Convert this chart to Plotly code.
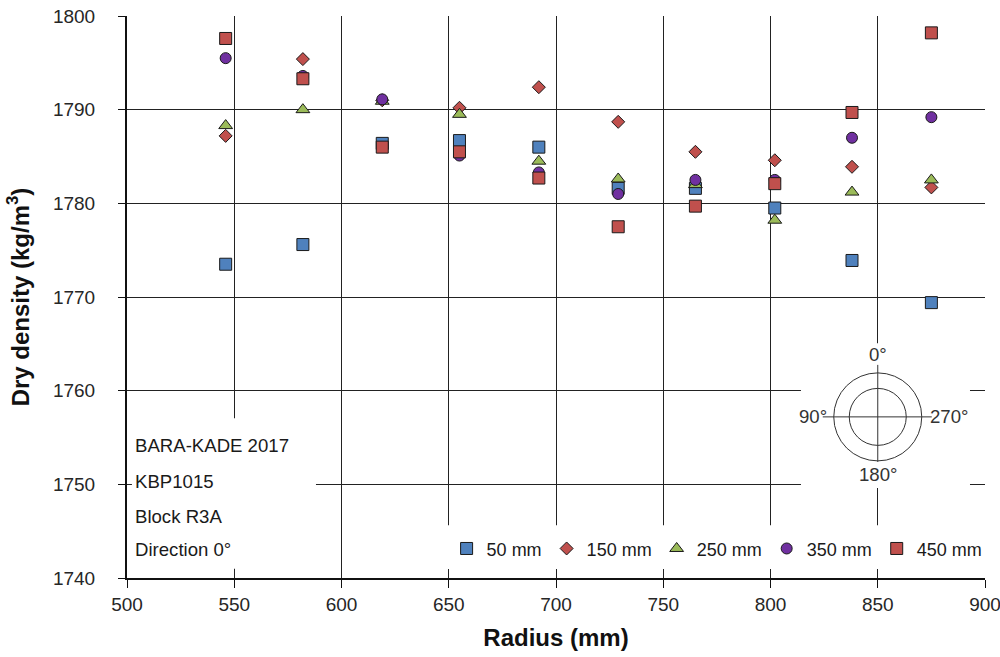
import plotly.graph_objects as go

# ---- data ----
radius = [546, 582, 619, 655, 692, 729, 765, 802, 838, 875]
d50 = [1773.5, 1775.6, 1786.4, 1786.7, 1786.0, 1781.6, 1781.6, 1779.5, 1773.9, 1769.4]
d150 = [1787.2, 1795.4, 1791.0, 1790.2, 1792.4, 1788.7, 1785.5, 1784.6, 1783.9, 1781.7]
d250 = [1788.3, 1790.0, 1790.9, 1789.5, 1784.5, 1782.6, 1782.0, 1778.2, 1781.2, 1782.5]
d350 = [1795.5, 1793.6, 1791.1, 1785.1, 1783.3, 1781.0, 1782.5, 1782.5, 1787.0, 1789.2]
d450 = [1797.6, 1793.3, 1786.0, 1785.5, 1782.7, 1777.5, 1779.7, 1782.1, 1789.7, 1798.2]

series_names = ["50 mm", "150 mm", "250 mm", "350 mm", "450 mm"]
series_vals = [d50, d150, d250, d350, d450]
symbols = ["square", "diamond", "triangle-up", "circle", "square"]
sizes = [12, 10, 12, 11, 12]
colors = ["#4F81BD", "#C0504D", "#9BBB59", "#7030A0", "#C0504D"]

info_lines = ["BARA-KADE 2017", "KBP1015", "Block R3A", "Direction 0°"]
info_y = [1754.1, 1750.3, 1746.6, 1743.0]

FONT = "Arial, Liberation Sans, sans-serif"
TXT = "#262626"

fig = go.Figure()
for name, vals, sym, sz, col in zip(series_names, series_vals, symbols, sizes, colors):
    fig.add_trace(go.Scatter(
        x=radius, y=vals, mode="markers", name=name,
        marker=dict(symbol=sym, size=sz, color=col, line=dict(color="#1a1a1a", width=1)),
    ))

shapes = []
# white boxes hiding grid lines (text box, legend box, orientation inset)
for x0, x1, y0, y1 in [(502.3, 588.1, 1741.0, 1757.05),
                       (647.0, 899.5, 1740.96, 1745.63),
                       (814.2, 893.0, 1749.6, 1765.06)]:
    shapes.append(dict(type="rect", xref="x", yref="y", x0=x0, x1=x1, y0=y0, y1=y1,
                       fillcolor="white", line=dict(width=0), layer="between"))

cx, cy = 850, 1757.2
for d in (88, 57):
    shapes.append(dict(type="circle", xref="x", yref="y", xsizemode="pixel", ysizemode="pixel",
                       xanchor=cx, yanchor=cy, x0=-d / 2, x1=d / 2, y0=-d / 2, y1=d / 2,
                       line=dict(color="#333333", width=1), layer="above"))
shapes.append(dict(type="line", xref="x", yref="y", xsizemode="pixel", ysizemode="pixel",
                   xanchor=cx, yanchor=cy, x0=-55, x1=54, y0=0, y1=0,
                   line=dict(color="#333333", width=1)))
shapes.append(dict(type="line", xref="x", yref="y", xsizemode="pixel", ysizemode="pixel",
                   xanchor=cx, yanchor=cy, x0=0, x1=0, y0=-45, y1=52,
                   line=dict(color="#333333", width=1)))

annotations = []
for t, yy in zip(info_lines, info_y):
    annotations.append(dict(text=t, x=502.6, y=yy, xref="x", yref="y", xanchor="left",
                            yanchor="middle", showarrow=False, font=dict(size=18.6, color="#1a1a1a", family=FONT)))
for t, xs, ys, xa in [("0°", 0, 62, "center"), ("180°", 0, -58, "center"),
                      ("90°", -49, 0, "right"), ("270°", 50, 0, "left")]:
    annotations.append(dict(text=t, x=cx, y=cy, xref="x", yref="y", xshift=xs, yshift=ys,
                            xanchor=xa, yanchor="middle", showarrow=False,
                            font=dict(size=18.6, color="#333333", family=FONT)))

fig.update_layout(
    width=1000, height=657,
    margin=dict(l=127, r=15, t=16, b=79, autoexpand=False),
    paper_bgcolor="white", plot_bgcolor="white",
    font=dict(family=FONT, size=18, color=TXT),
    shapes=shapes, annotations=annotations,
    showlegend=True,
    legend=dict(orientation="h", x=0.3725, y=0.052, xanchor="left", yanchor="middle",
                bgcolor="rgba(0,0,0,0)", font=dict(size=18, color="#1a1a1a", family=FONT),
                itemwidth=30, tracegroupgap=0),
    xaxis=dict(range=[500, 900], dtick=50, tick0=500, showgrid=True, gridcolor="#222222", gridwidth=1,
               showline=True, linecolor="#111111", linewidth=2, ticks="outside", ticklen=8,
               tickcolor="#111111", zeroline=False, automargin=False, ticklabeloverflow="allow",
               title=dict(text="<b>Radius (mm)</b>", font=dict(size=24, color="#111111"), standoff=15),
               tickfont=dict(size=19, color=TXT)),
    yaxis=dict(range=[1740, 1800], dtick=10, tick0=1740, showgrid=True, gridcolor="#222222", gridwidth=1,
               showline=True, linecolor="#111111", linewidth=2, ticks="outside", ticklen=7,
               tickcolor="#111111", zeroline=False, ticklabelstandoff=19, automargin=False,
               ticklabeloverflow="allow",
               title=dict(text="<b>Dry density (kg/m<sup>3</sup>)</b>", font=dict(size=24, color="#111111"), standoff=17),
               tickfont=dict(size=19, color=TXT)),
)

fig.write_html("out.html", config={"displayModeBar": False},
               post_script="document.body.style.margin='0';")
